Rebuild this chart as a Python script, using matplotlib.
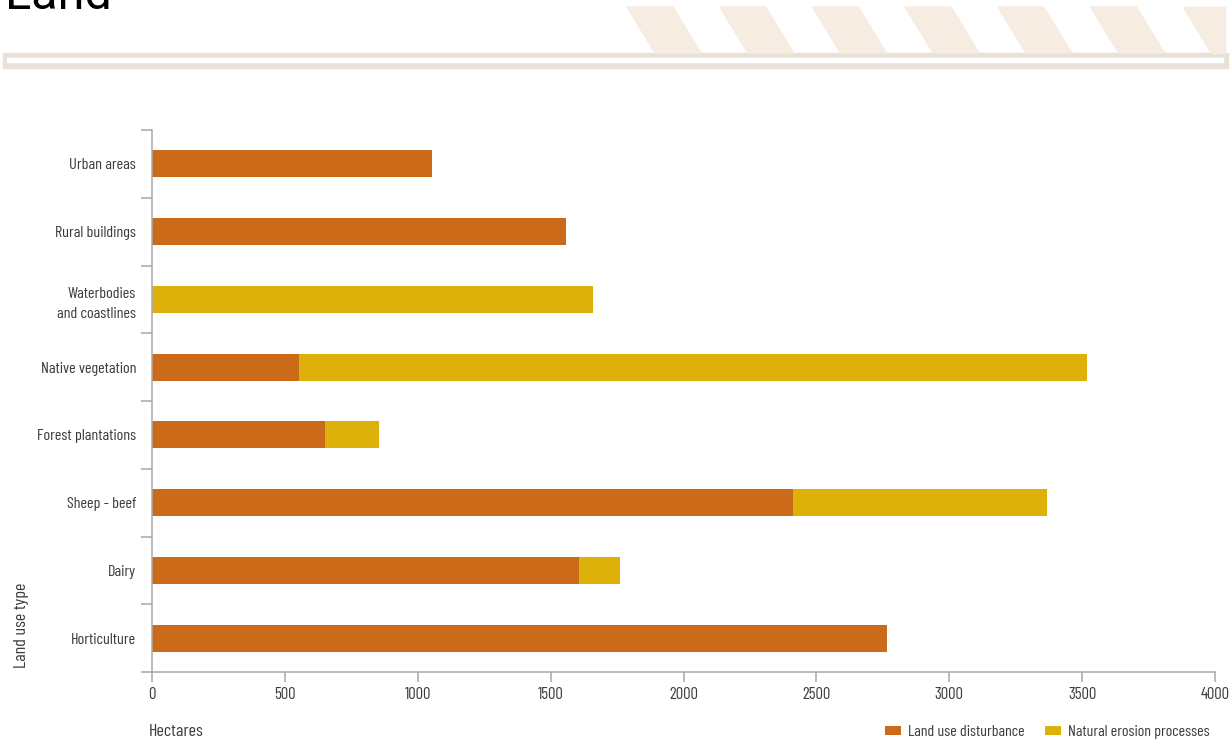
import matplotlib.pyplot as plt
from matplotlib.patches import Rectangle, Polygon
import numpy as np

plt.rcParams['font.family'] = ['Barlow Condensed', 'Roboto Condensed', 'DejaVu Sans']

categories = ["Urban areas", "Rural buildings", "Waterbodies\nand coastlines",
              "Native vegetation", "Forest plantations", "Sheep - beef",
              "Dairy", "Horticulture"]
land_use = [1055, 1558, 0, 553, 651, 2412, 1607, 2766]
natural = [0, 0, 1659, 2965, 203, 956, 154, 0]
x_ticks = [0, 500, 1000, 1500, 2000, 2500, 3000, 3500, 4000]

ORANGE = '#cb6b19'
YELLOW = '#ddb00a'
TEXT = '#3c3c3c'
GREY = '#a8a8a8'

W, H = 1231, 745
fig = plt.figure(figsize=(W / 100, H / 100), dpi=100)

# header decoration
fig.text(5 / W, 1 - 9 / H, "Land", fontsize=35, color='black', va='baseline',
         family=['Roboto', 'DejaVu Sans'])
fig.patches.append(Rectangle((3 / W, 1 - 68 / H), 1225 / W, 15 / H,
                             transform=fig.transFigure, color='#e7e1d7', zorder=0))
fig.patches.append(Rectangle((7 / W, 1 - 62 / H), 1216 / W, 4 / H,
                             transform=fig.transFigure, color='white', zorder=1))
for i in range(7):
    x0 = 627 + i * 92.7
    pts = [(x0, 7), (x0 + 46, 7), (min(x0 + 74, 1225), 53), (x0 + 28, 53)]
    if x0 + 46 > 1225:
        pts = [(x0, 7), (1225, 7), (1225, 53), (x0 + 28, 53)]
    fig.patches.append(Polygon([(px / W, 1 - py / H) for px, py in pts],
                               closed=True, transform=fig.transFigure,
                               color='#f6ece1', zorder=0))

ax = fig.add_axes([152 / W, 1 - 672 / H, 1063 / W, 542 / H])
y = np.arange(len(categories))
ax.barh(y, land_use, height=0.4, color=ORANGE, label='Land use disturbance')
ax.barh(y, natural, left=land_use, height=0.4, color=YELLOW,
        label='Natural erosion processes')

ax.set_xlim(0, 4000)
ax.set_ylim(len(categories) - 0.5, -0.5)
ax.set_xticks(x_ticks)
ax.set_xticklabels([str(v) for v in x_ticks])
ax.set_yticks(np.arange(len(categories) + 1) - 0.5)
ax.set_yticklabels([])
ax.set_yticks(y, minor=True)
ax.set_yticklabels(categories, minor=True, linespacing=1.6)
ax.tick_params(axis='y', which='major', length=8, width=1.1, color=GREY)
ax.tick_params(axis='y', which='minor', length=0, pad=11.5, labelsize=11.7, labelcolor=TEXT)
ax.tick_params(axis='x', length=7, width=1.1, color=GREY, pad=4, labelsize=12,
               labelcolor=TEXT)
for s in ['top', 'right']:
    ax.spines[s].set_visible(False)
for s in ['left', 'bottom']:
    ax.spines[s].set_color(GREY)
    ax.spines[s].set_linewidth(1.1)

fig.text(22 / W, 1 - 668 / H, "Land use type", rotation=90, fontsize=13,
         color=TEXT, va='bottom', ha='center')
fig.text(149 / W, 1 - 732 / H, "Hectares", fontsize=13, color=TEXT, va='center')

ax.legend(loc='center right', bbox_to_anchor=(1218 / W, 1 - 732 / H),
          bbox_transform=fig.transFigure, ncol=2, frameon=False, fontsize=11.5,
          handlelength=1.0, handleheight=0.5, handletextpad=0.45, columnspacing=1.3,
          borderpad=0, labelcolor=TEXT)

fig.savefig('out.png', dpi=100)
